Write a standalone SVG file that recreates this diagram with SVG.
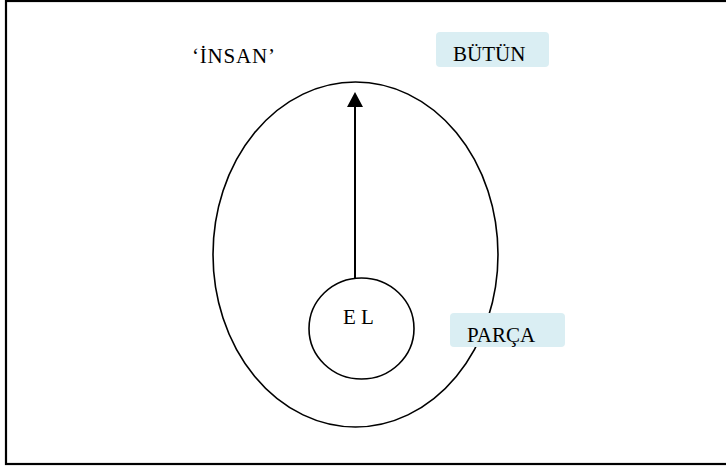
<svg xmlns="http://www.w3.org/2000/svg" width="726" height="470" viewBox="0 0 726 470">
  <style>
    .outline { fill: none; stroke: #000; stroke-width: 1.6; }
    .label { font-family: "Liberation Serif", "Times New Roman", serif; font-size: 21px; fill: #000; }
    .tag { fill: #DAEEF3; stroke: none; }
  </style>
  <defs>
    <marker id="arrowhead" markerWidth="16" markerHeight="15" refX="8" refY="0" orient="auto-start-reverse" markerUnits="userSpaceOnUse" viewBox="0 0 16 15">
      <path d="M0,0 L16,7.5 L0,15 Z" fill="#000"/>
    </marker>
  </defs>

  <!-- frame -->
  <rect x="6" y="1" width="730" height="463" fill="#fff" stroke="#000" stroke-width="2.2"/>

  <!-- whole: the person -->
  <g id="insan">
    <ellipse class="outline" cx="355.5" cy="254.5" rx="142.5" ry="172.5"/>
    <text class="label" x="192" y="63" letter-spacing="0.8">‘İNSAN’</text>
  </g>

  <!-- part: the hand -->
  <g id="el">
    <ellipse class="outline" cx="361.5" cy="328.5" rx="52.5" ry="50.5"/>
    <text class="label" x="343" y="324">E L</text>
  </g>

  <!-- connectors -->
  <g id="connectors">
    <line x1="355" y1="278" x2="355" y2="107" stroke="#000" stroke-width="2"/>
    <path d="M347,107 L355,92 L363,107 Z" fill="#000"/>
  </g>

  <g id="butun">
    <rect class="tag" x="436" y="32" width="113" height="35" rx="4"/>
    <text class="label" x="453" y="61">BÜTÜN</text>
  </g>

  <g id="parca">
    <rect class="tag" x="450" y="313" width="115" height="34" rx="4"/>
    <text class="label" x="467" y="342">PARÇA</text>
  </g>
</svg>
